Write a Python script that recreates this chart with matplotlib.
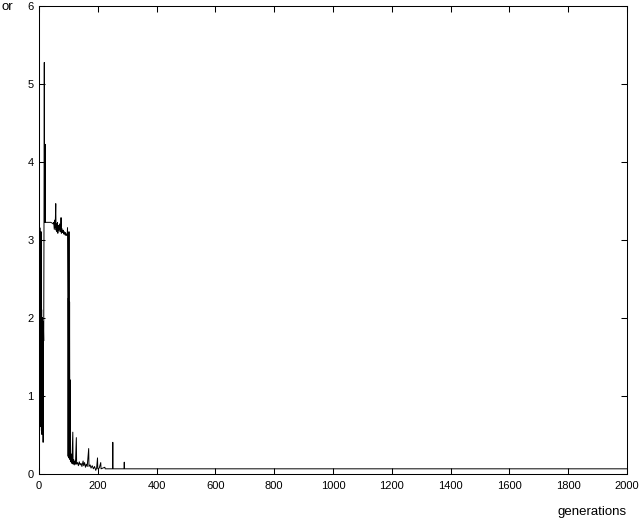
import matplotlib
matplotlib.use("Agg")
import matplotlib.pyplot as plt

# error per generation (sparse points where the curve is flat)
generations = [
    1, 2, 3, 4, 5, 6, 7, 8, 9, 10, 11, 12, 13, 14, 15, 16,
    17, 18, 19, 20, 21, 22, 30, 40, 45, 48, 50, 52, 54, 55, 57, 58,
    60, 61, 63, 64, 66, 68, 70, 72, 74, 75, 76, 78, 80, 82, 84, 86,
    88, 90, 92, 94, 96, 97, 98, 99, 100, 101, 102, 103, 104, 105, 106,
    107, 110, 112, 115, 116, 118, 120, 122, 124, 127, 128, 131, 134, 137,
    140, 143, 146, 150, 152, 155, 158, 161, 164, 169, 170, 174, 177, 181,
    185, 189, 193, 196, 199, 200, 205, 210, 211, 224, 225, 250, 251, 252,
    289, 290, 291, 2000,
]
error = [
    3.2, 0.55, 3.15, 1.6, 2.15, 0.6, 3.1, 1.65, 2.1, 0.5, 2.0, 1.6, 1.95, 0.4, 1.9, 1.7,
    3.22, 5.27, 3.22, 3.22, 4.22, 3.22, 3.22, 3.22, 3.21, 3.2, 3.22, 3.13, 3.25, 3.15, 3.46, 3.12,
    3.2, 3.1, 3.22, 3.08, 3.18, 3.12, 3.2, 3.1, 3.15, 3.28, 3.08, 3.14, 3.09, 3.12, 3.07, 3.1,
    3.06, 3.09, 3.05, 3.07, 3.06, 3.15, 2.28, 0.22, 2.25, 0.2, 3.1, 0.25, 2.2, 0.18, 1.2,
    0.15, 0.25, 0.13, 0.53, 0.12, 0.18, 0.11, 0.16, 0.12, 0.46, 0.12, 0.14, 0.1, 0.15,
    0.11, 0.13, 0.09, 0.16, 0.1, 0.14, 0.08, 0.12, 0.09, 0.32, 0.09, 0.11, 0.07, 0.1,
    0.06, 0.09, 0.04, 0.07, 0.2, 0.06, 0.07, 0.14, 0.06, 0.08, 0.06, 0.06, 0.4, 0.06,
    0.06, 0.145, 0.06, 0.06,
]

xticks = [0, 200, 400, 600, 800, 1000, 1200, 1400, 1600, 1800, 2000]
yticks = [0, 1, 2, 3, 4, 5, 6]

plt.rcParams["font.family"] = ["Liberation Sans", "DejaVu Sans"]

fig = plt.figure(figsize=(6.4, 5.19), dpi=100)
ax = fig.add_axes([39 / 640, 45.5 / 519, 588 / 640, 468 / 519])
ax.plot(generations, error, color="black", lw=0.7)
ax.set_xlim(0, 2000)
ax.set_ylim(0, 6)
ax.set_xticks(xticks)
ax.set_yticks(yticks)
ax.tick_params(direction="in", length=4, width=0.75, labelsize=8,
               top=True, right=True, colors="black")
ax.tick_params(axis="x", pad=5.5)
ax.tick_params(axis="y", pad=4)
for s in ax.spines.values():
    s.set_linewidth(0.75)

fig.text(627 / 640, 4 / 519, "generations", ha="right", va="baseline", fontsize=9.5)
# the reference only shows the tail of the y label
fig.text(1 / 640, 1 - 10 / 519, "or", ha="left", va="baseline", fontsize=9.5)

fig.savefig("out.png", dpi=100)
